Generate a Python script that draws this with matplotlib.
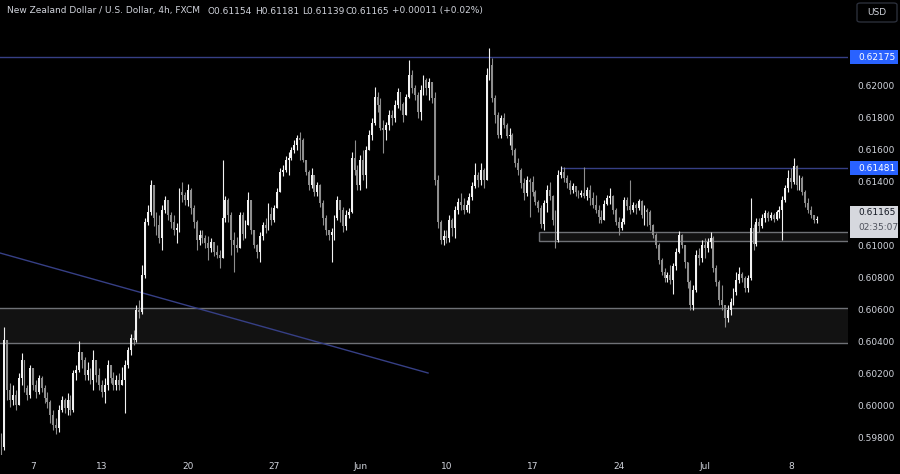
import numpy as np
import matplotlib
matplotlib.use('Agg')
import matplotlib.pyplot as plt
from matplotlib.patches import Rectangle, FancyBboxPatch
from matplotlib.transforms import blended_transform_factory

# ---------- NZD/USD 4h candles (FXCM) ---------- #

first_open = 0.59794

closes = [
    0.59737, 0.60406, 0.60094, 0.60031, 0.60062, 0.60000, 0.60169, 0.60281, 0.60106, 0.60062,
    0.60231, 0.60125, 0.60081, 0.60169, 0.60106, 0.60044, 0.60019, 0.59937, 0.59875, 0.59856,
    0.59969, 0.60031, 0.59981, 0.60031, 0.59969, 0.60200, 0.60219, 0.60331, 0.60281, 0.60187,
    0.60219, 0.60156, 0.60281, 0.60187, 0.60125, 0.60081, 0.60125, 0.60250, 0.60169, 0.60125,
    0.60156, 0.60125, 0.60156, 0.60250, 0.60344, 0.60419, 0.60406, 0.60594, 0.60581, 0.60812,
    0.61144, 0.61206, 0.61375, 0.61169, 0.61125, 0.61044, 0.61219, 0.61281, 0.61187, 0.61144,
    0.61094, 0.61106, 0.61331, 0.61312, 0.61281, 0.61344, 0.61231, 0.61144, 0.61031, 0.61062,
    0.61044, 0.61012, 0.60981, 0.61019, 0.60956, 0.60937, 0.60919, 0.61169, 0.61281, 0.61187,
    0.61031, 0.61000, 0.60981, 0.61187, 0.61069, 0.61125, 0.61281, 0.61094, 0.61000, 0.60956,
    0.61056, 0.61125, 0.61106, 0.61194, 0.61156, 0.61231, 0.61331, 0.61456, 0.61469, 0.61531,
    0.61544, 0.61594, 0.61625, 0.61669, 0.61656, 0.61531, 0.61456, 0.61375, 0.61437, 0.61331,
    0.61375, 0.61262, 0.61169, 0.61094, 0.61062, 0.61081, 0.61169, 0.61281, 0.61219, 0.61119,
    0.61187, 0.61206, 0.61544, 0.61469, 0.61375, 0.61531, 0.61437, 0.61594, 0.61687, 0.61762,
    0.61925, 0.61875, 0.61731, 0.61719, 0.61750, 0.61812, 0.61794, 0.61875, 0.61956, 0.61881,
    0.61812, 0.61925, 0.62062, 0.61981, 0.61937, 0.61831, 0.61969, 0.62031, 0.61981, 0.62019,
    0.61919, 0.61406, 0.61144, 0.61031, 0.61056, 0.61044, 0.61156, 0.61106, 0.61219, 0.61269,
    0.61250, 0.61219, 0.61250, 0.61300, 0.61369, 0.61437, 0.61406, 0.61469, 0.61406, 0.62062,
    0.62125, 0.61919, 0.61812, 0.61687, 0.61794, 0.61750, 0.61681, 0.61687, 0.61594, 0.61512,
    0.61469, 0.61387, 0.61325, 0.61406, 0.61394, 0.61331, 0.61269, 0.61231, 0.61131, 0.61262,
    0.61344, 0.61306, 0.61156, 0.61031, 0.61437, 0.61456, 0.61419, 0.61387, 0.61344, 0.61369,
    0.61331, 0.61312, 0.61325, 0.61306, 0.61344, 0.61294, 0.61250, 0.61219, 0.61175, 0.61156,
    0.61256, 0.61294, 0.61306, 0.61219, 0.61144, 0.61106, 0.61144, 0.61281, 0.61244, 0.61219,
    0.61250, 0.61231, 0.61275, 0.61187, 0.61219, 0.61206, 0.61125, 0.61062, 0.61000, 0.60906,
    0.60831, 0.60794, 0.60812, 0.60781, 0.60869, 0.60956, 0.61062, 0.61000, 0.60894, 0.60769,
    0.60625, 0.60719, 0.60937, 0.60919, 0.61000, 0.60981, 0.61019, 0.61044, 0.60856, 0.60769,
    0.60656, 0.60625, 0.60544, 0.60594, 0.60644, 0.60706, 0.60781, 0.60819, 0.60794, 0.60731,
    0.60794, 0.61106, 0.61006, 0.61144, 0.61119, 0.61169, 0.61200, 0.61169, 0.61187, 0.61162,
    0.61206, 0.61219, 0.61281, 0.61356, 0.61419, 0.61394, 0.61494, 0.61375, 0.61419, 0.61331,
    0.61262, 0.61219, 0.61187, 0.61154, 0.61165,
]

highs = [
    0.59825, 0.60487, 0.60375, 0.60137, 0.60125, 0.60094, 0.60200, 0.60325, 0.60250, 0.60125,
    0.60250, 0.60231, 0.60156, 0.60187, 0.60181, 0.60125, 0.60081, 0.60031, 0.59969, 0.59919,
    0.60000, 0.60056, 0.60044, 0.60075, 0.60062, 0.60219, 0.60250, 0.60400, 0.60331, 0.60300,
    0.60269, 0.60231, 0.60344, 0.60281, 0.60231, 0.60156, 0.60169, 0.60281, 0.60250, 0.60206,
    0.60187, 0.60200, 0.60237, 0.60281, 0.60362, 0.60444, 0.60469, 0.60625, 0.60656, 0.60875,
    0.61169, 0.61250, 0.61406, 0.61344, 0.61206, 0.61187, 0.61250, 0.61306, 0.61281, 0.61206,
    0.61187, 0.61137, 0.61356, 0.61394, 0.61331, 0.61381, 0.61356, 0.61250, 0.61156, 0.61094,
    0.61094, 0.61062, 0.61056, 0.61044, 0.61012, 0.61000, 0.60969, 0.61531, 0.61306, 0.61294,
    0.61206, 0.61081, 0.61050, 0.61206, 0.61206, 0.61156, 0.61331, 0.61281, 0.61094, 0.61006,
    0.61081, 0.61144, 0.61169, 0.61262, 0.61237, 0.61250, 0.61356, 0.61481, 0.61500, 0.61556,
    0.61581, 0.61612, 0.61656, 0.61687, 0.61706, 0.61669, 0.61531, 0.61469, 0.61481, 0.61437,
    0.61394, 0.61381, 0.61281, 0.61187, 0.61094, 0.61106, 0.61187, 0.61306, 0.61281, 0.61237,
    0.61219, 0.61231, 0.61581, 0.61656, 0.61500, 0.61562, 0.61594, 0.61619, 0.61719, 0.61794,
    0.61987, 0.61956, 0.61919, 0.61781, 0.61769, 0.61844, 0.61844, 0.61906, 0.61981, 0.61956,
    0.61894, 0.61944, 0.62156, 0.62094, 0.62000, 0.61956, 0.62000, 0.62062, 0.62044, 0.62044,
    0.62019, 0.61956, 0.61437, 0.61156, 0.61094, 0.61094, 0.61187, 0.61169, 0.61244, 0.61294,
    0.61325, 0.61294, 0.61281, 0.61325, 0.61394, 0.61512, 0.61456, 0.61512, 0.61481, 0.62106,
    0.62231, 0.62169, 0.61937, 0.61831, 0.61812, 0.61825, 0.61762, 0.61731, 0.61700, 0.61606,
    0.61544, 0.61481, 0.61419, 0.61431, 0.61419, 0.61431, 0.61344, 0.61281, 0.61250, 0.61281,
    0.61375, 0.61394, 0.61312, 0.61219, 0.61469, 0.61494, 0.61487, 0.61437, 0.61406, 0.61387,
    0.61369, 0.61344, 0.61344, 0.61487, 0.61362, 0.61375, 0.61331, 0.61312, 0.61250, 0.61219,
    0.61281, 0.61312, 0.61356, 0.61312, 0.61231, 0.61175, 0.61169, 0.61300, 0.61300, 0.61406,
    0.61269, 0.61262, 0.61287, 0.61281, 0.61250, 0.61231, 0.61219, 0.61131, 0.61075, 0.61012,
    0.60919, 0.60856, 0.60831, 0.60875, 0.60887, 0.60981, 0.61087, 0.61069, 0.61000, 0.60894,
    0.60781, 0.60750, 0.60969, 0.60981, 0.61031, 0.61044, 0.61044, 0.61081, 0.61056, 0.60875,
    0.60781, 0.60750, 0.60625, 0.60625, 0.60669, 0.60731, 0.60831, 0.60862, 0.60831, 0.60806,
    0.60812, 0.61294, 0.61131, 0.61169, 0.61169, 0.61194, 0.61219, 0.61212, 0.61206, 0.61200,
    0.61219, 0.61244, 0.61306, 0.61375, 0.61469, 0.61481, 0.61544, 0.61500, 0.61437, 0.61431,
    0.61344, 0.61294, 0.61244, 0.61190, 0.61181,
]

lows = [
    0.59687, 0.59719, 0.60031, 0.59987, 0.60000, 0.59969, 0.60000, 0.60125, 0.60081, 0.60031,
    0.60044, 0.60094, 0.60044, 0.60069, 0.60081, 0.60012, 0.59981, 0.59887, 0.59844, 0.59819,
    0.59831, 0.59956, 0.59950, 0.59937, 0.59937, 0.59956, 0.60156, 0.60206, 0.60231, 0.60156,
    0.60156, 0.60131, 0.60094, 0.60144, 0.60094, 0.60050, 0.60012, 0.60094, 0.60137, 0.60094,
    0.60094, 0.60094, 0.60125, 0.59950, 0.60231, 0.60312, 0.60375, 0.60394, 0.60544, 0.60569,
    0.60794, 0.61125, 0.61187, 0.61119, 0.61062, 0.61012, 0.60969, 0.61200, 0.61156, 0.61106,
    0.61062, 0.61012, 0.61081, 0.61269, 0.61250, 0.61244, 0.61194, 0.61106, 0.60969, 0.61000,
    0.61012, 0.60981, 0.60906, 0.60956, 0.60931, 0.60919, 0.60856, 0.60919, 0.61144, 0.61144,
    0.60937, 0.60831, 0.60956, 0.60981, 0.61031, 0.61044, 0.61125, 0.61069, 0.60981, 0.60919,
    0.60894, 0.61031, 0.61075, 0.61094, 0.61125, 0.61144, 0.61231, 0.61331, 0.61431, 0.61456,
    0.61437, 0.61531, 0.61575, 0.61594, 0.61531, 0.61519, 0.61437, 0.61344, 0.61356, 0.61306,
    0.61306, 0.61237, 0.61125, 0.61062, 0.61031, 0.60894, 0.61031, 0.61156, 0.61144, 0.61081,
    0.61094, 0.61169, 0.61200, 0.61437, 0.61344, 0.61344, 0.61406, 0.61356, 0.61594, 0.61656,
    0.61750, 0.61831, 0.61719, 0.61575, 0.61656, 0.61719, 0.61750, 0.61769, 0.61856, 0.61844,
    0.61769, 0.61812, 0.61919, 0.61950, 0.61906, 0.61794, 0.61781, 0.61937, 0.61937, 0.61906,
    0.61887, 0.61375, 0.61106, 0.61006, 0.61000, 0.61012, 0.61019, 0.61056, 0.61044, 0.61194,
    0.61219, 0.61194, 0.61206, 0.61200, 0.61281, 0.61356, 0.61362, 0.61375, 0.61356, 0.61406,
    0.62031, 0.61894, 0.61762, 0.61669, 0.61669, 0.61731, 0.61669, 0.61625, 0.61562, 0.61487,
    0.61437, 0.61356, 0.61281, 0.61306, 0.61175, 0.61306, 0.61250, 0.61206, 0.61106, 0.61094,
    0.61206, 0.61281, 0.61125, 0.60981, 0.61019, 0.61419, 0.61394, 0.61356, 0.61319, 0.61325,
    0.61306, 0.61294, 0.61300, 0.61294, 0.61281, 0.61250, 0.61231, 0.61200, 0.61137, 0.61137,
    0.61156, 0.61250, 0.61256, 0.61194, 0.61125, 0.61062, 0.61094, 0.61131, 0.61219, 0.61194,
    0.61206, 0.61194, 0.61219, 0.61169, 0.61125, 0.61119, 0.61094, 0.61044, 0.60981, 0.60881,
    0.60812, 0.60769, 0.60769, 0.60756, 0.60694, 0.60844, 0.60950, 0.60981, 0.60856, 0.60731,
    0.60594, 0.60594, 0.60706, 0.60875, 0.60894, 0.60919, 0.60956, 0.60981, 0.60831, 0.60744,
    0.60625, 0.60594, 0.60487, 0.60519, 0.60562, 0.60625, 0.60687, 0.60762, 0.60769, 0.60706,
    0.60706, 0.60781, 0.60969, 0.60994, 0.61081, 0.61106, 0.61144, 0.61150, 0.61156, 0.61144,
    0.61156, 0.61169, 0.61031, 0.61269, 0.61331, 0.61356, 0.61381, 0.61344, 0.61344, 0.61312,
    0.61237, 0.61200, 0.61169, 0.61140, 0.61139,
]

# x-axis: candle index of each day label
day_pos = [11, 35, 65, 95, 125, 155, 185, 215, 245, 275]
day_lab = ['7', '13', '20', '27', 'Jun', '10', '17', '24', 'Jul', '8']

price_ticks = [0.598, 0.600, 0.602, 0.604, 0.606, 0.608, 0.610,
               0.612, 0.614, 0.616, 0.618, 0.620, 0.622]

# drawn levels
res_top = 0.62175
res_mid = 0.61481
res_mid_start = 195           # candle index where the line starts
zone_small = (0.61025, 0.61081)
zone_small_start = 187.4
zone_big = (0.60387, 0.60606)
trend_x = [-0.52, 148.6]      # candle index
trend_y = [0.60950, 0.60200]

last_price = 0.61165
countdown = '02:35:07'
legend_name = 'New Zealand Dollar / U.S. Dollar, 4h, FXCM'
legend_ohlc = ['O0.61154', 'H0.61181', 'L0.61139', 'C0.61165', '+0.00011 (+0.02%)']

# ----------------------------------------- #

txt_col = '#d1d4dc'
up_col = '#f2f2f2'
dn_col = '#8e8e8e'
blue_line = '#363f85'
tag_blue = '#2962ff'
zone_edge = '#6f7176'
zone_fill = '#121212'

W, H = 900, 474
fig = plt.figure(figsize=(W/100, H/100), dpi=100, facecolor='black')
ax = fig.add_axes([0, 19/H, 848/W, 455/H], facecolor='black')

closes = np.array(closes)
opens = np.concatenate([[first_open], closes[:-1]])
hi = np.maximum(np.array(highs), np.maximum(opens, closes))
lo = np.minimum(np.array(lows), np.minimum(opens, closes))
idx = np.arange(len(closes))
up = closes >= opens
cols = np.where(up, up_col, dn_col)

# zones
ax.add_patch(Rectangle((-10, zone_big[0]), 400, zone_big[1]-zone_big[0],
                       facecolor=zone_fill, edgecolor='none', zorder=0))
ax.hlines(zone_big, -10, 400, color=zone_edge, lw=1, zorder=1)
ax.add_patch(Rectangle((zone_small_start, zone_small[0]), 400, zone_small[1]-zone_small[0],
                       facecolor=zone_fill, edgecolor=zone_edge, lw=1, zorder=1))

# lines
ax.axhline(res_top, color=blue_line, lw=1, zorder=1)
ax.hlines(res_mid, res_mid_start, 400, color=blue_line, lw=1, zorder=1)
ax.plot(trend_x, trend_y, color=blue_line, lw=1, zorder=1)

# candles
ax.vlines(idx, lo, hi, colors=cols, lw=0.8, zorder=3)
body = np.abs(closes-opens)
body = np.maximum(body, 0.00003)
ax.bar(idx, body, bottom=np.minimum(opens, closes), width=0.66,
       color=cols, edgecolor='none', zorder=4)

ax.set_xlim(-0.52, 294.9)
ax.set_ylim(0.596875, 0.625313)

for s in ax.spines.values():
    s.set_visible(False)

ax.set_xticks(day_pos)
ax.set_xticklabels(day_lab)
ax.yaxis.tick_right()
ax.set_yticks(price_ticks)
ax.set_yticklabels(['{:.5f}'.format(p) for p in price_ticks])
ax.tick_params(axis='x', length=0, pad=5, labelsize=6.5, colors=txt_col)
ax.tick_params(axis='y', length=0, pad=7, labelsize=6.5, colors=txt_col)

# price tags on the axis
tr = blended_transform_factory(ax.transAxes, ax.transData)
x0, x1 = 850/848, 898/848
ph = 1/16000  # price per pixel

def tag(price, face, fcol, hpx=14):
    ax.add_patch(Rectangle((x0, price - hpx/2*ph), x1-x0, hpx*ph, transform=tr,
                           facecolor=face, edgecolor='none', clip_on=False, zorder=10))
    ax.text(858/848, price, '{:.5f}'.format(price), transform=tr, color=fcol,
            fontsize=6.5, va='center', ha='left', clip_on=False, zorder=11)

tag(res_top, tag_blue, 'white')
tag(res_mid, tag_blue, 'white')

# last price + countdown
top = last_price + 13*ph
ax.add_patch(Rectangle((x0, top - 32*ph), x1-x0, 32*ph, transform=tr,
                       facecolor='#d6d8de', edgecolor='none', clip_on=False, zorder=10))
ax.text(858/848, last_price + 6*ph, '{:.5f}'.format(last_price), transform=tr,
        color='#131722', fontsize=6.5, va='center', ha='left', clip_on=False, zorder=11)
ax.text(858/848, last_price - 9*ph, countdown, transform=tr,
        color='#50535e', fontsize=6.5, va='center', ha='left', clip_on=False, zorder=11)

# legend line and currency button
fig.text(7/W, 1-11/H, legend_name, color=txt_col, fontsize=6.5, va='center', ha='left')
for xp, s in zip([207, 255, 302, 345, 392], legend_ohlc):
    fig.text(xp/W, 1-11/H, s, color=txt_col, fontsize=6.5, va='center', ha='left')
fig.add_artist(FancyBboxPatch((857/W, 1-22/H), 40/W, 19/H,
                              boxstyle='round,pad=0,rounding_size=0.004',
                              facecolor='black', edgecolor='#2a2e39', lw=1,
                              transform=fig.transFigure))
fig.text(877/W, 1-12.5/H, 'USD', color=txt_col, fontsize=6.5, va='center', ha='center')

fig.savefig('out.png', dpi=100, facecolor='black')
plt.close()
